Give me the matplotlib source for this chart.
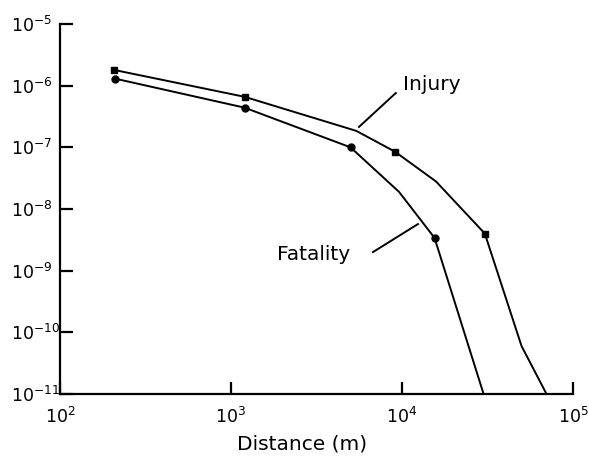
import matplotlib
matplotlib.use("Agg")
import matplotlib.pyplot as plt

plt.rcParams['font.family'] = ['DejaVu Sans']

# distances (m) and frequencies
injury_x = [207, 1200, 5400, 9100, 15800, 30500, 50000, 70000]
injury_y = [1.8e-6, 6.6e-7, 1.85e-7, 8.5e-8, 2.8e-8, 4.0e-9, 6.0e-11, 1.0e-11]
injury_mark = [0, 1, 3, 5]

fatal_x = [210, 1200, 5000, 9600, 15500, 30000]
fatal_y = [1.3e-6, 4.4e-7, 1.0e-7, 1.9e-8, 3.4e-9, 1.0e-11]
fatal_mark = [0, 1, 2, 4]

x_exp = [2, 3, 4, 5]
y_exp = [-11, -10, -9, -8, -7, -6, -5]

fig = plt.figure(figsize=(5.89, 4.57), dpi=100)
ax = fig.add_axes([60 / 589, 1 - 394 / 457, (573 - 60) / 589, (394 - 24) / 457])

ax.plot(injury_x, injury_y, color='black', lw=1.4, marker='s', ms=5,
        markevery=injury_mark)
ax.plot(fatal_x, fatal_y, color='black', lw=1.4, marker='o', ms=5,
        markevery=fatal_mark)

ax.set_xscale('log')
ax.set_yscale('log')
ax.set_xlim(1e2, 1e5)
ax.set_ylim(1e-11, 1e-5)
ax.set_xticks([10.0 ** e for e in x_exp], ['$10^{%d}$' % e for e in x_exp])
ax.set_yticks([10.0 ** e for e in y_exp], ['$10^{%d}$' % e for e in y_exp])
ax.minorticks_off()

ax.spines['top'].set_visible(False)
ax.spines['right'].set_visible(False)
ax.spines['left'].set_linewidth(1.6)
ax.spines['bottom'].set_linewidth(1.6)
ax.tick_params(direction='in', length=9, width=1.6, labelsize=12.5)
ax.tick_params(axis='x', pad=9)
ax.tick_params(axis='y', pad=35)
for lab in ax.get_yticklabels():
    lab.set_horizontalalignment('left')

ax.set_xlabel('Distance (m)', fontsize=14.5)
ax.xaxis.set_label_coords((302 - 60) / 513, -(444 - 394) / 370, transform=ax.transAxes)
ax.xaxis.label.set_va('center')

# labels with leader lines
ax.text(10200, 1.03e-6, 'Injury', fontsize=14.5, va='center', ha='left')
ax.plot([9200, 5600], [7.6e-7, 2.14e-7], color='black', lw=1.4)
ax.text(1860, 1.86e-9, 'Fatality', fontsize=14.5, va='center', ha='left')
ax.plot([6760, 12400], [2.0e-9, 5.7e-9], color='black', lw=1.4)

fig.savefig('out.png', dpi=100)
